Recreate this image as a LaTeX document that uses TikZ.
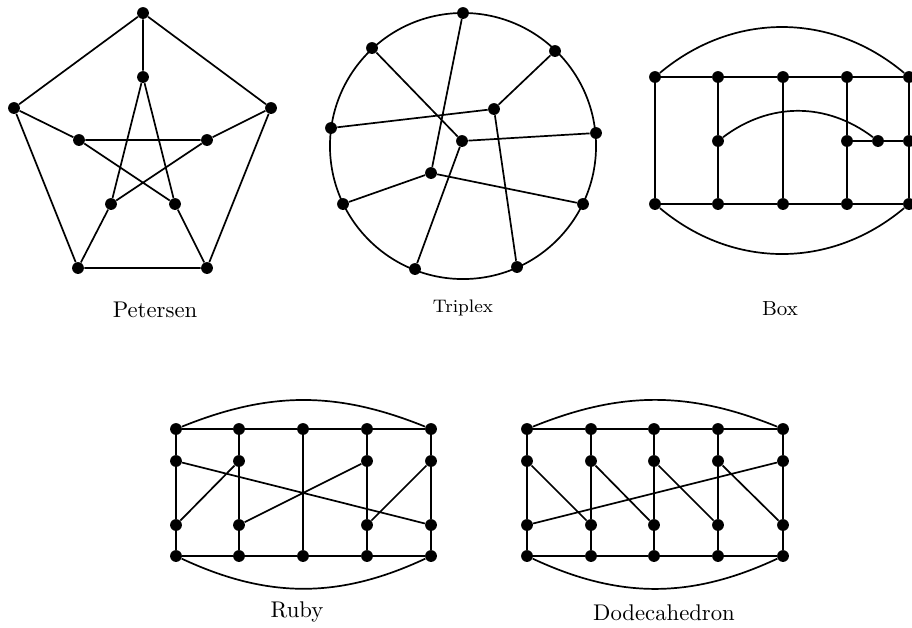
\documentclass[tikz,border=0pt]{standalone}
\begin{document}
\begin{tikzpicture}[x=0.4405pt,y=-0.4405pt,
  v/.style={circle,fill=black,inner sep=0pt,minimum size=5.2pt},
  e/.style={line width=0.75pt},
  lbl/.style={anchor=base,inner sep=0pt}]
\useasboundingbox (0,0) rectangle (912,627);
% ---------------- Petersen
\node[v] (p1) at (143,13) {};
\node[v] (p2) at (271,108) {};
\node[v] (p3) at (207,268) {};
\node[v] (p4) at (78,268) {};
\node[v] (p5) at (14,108) {};
\node[v] (q1) at (143,77) {};
\node[v] (q2) at (207,140) {};
\node[v] (q3) at (175,204) {};
\node[v] (q4) at (111,204) {};
\node[v] (q5) at (79,140) {};
\draw[e] (p1)--(p2) (p2)--(p3) (p3)--(p4) (p4)--(p5) (p5)--(p1);
\draw[e] (p1)--(q1) (p2)--(q2) (p3)--(q3) (p4)--(q4) (p5)--(q5);
\draw[e] (q1)--(q3) (q3)--(q5) (q5)--(q2) (q2)--(q4) (q4)--(q1);
\node[lbl] (lp) at (155,317) {Petersen};
% ---------------- Triplex
\draw[e] (463,146) circle [radius=58.6pt];
\node[v] (t1) at (463,13) {};
\node[v] (t2) at (555,51) {};
\node[v] (t3) at (596,133) {};
\node[v] (t4) at (583,204) {};
\node[v] (t5) at (517,267) {};
\node[v] (t6) at (415,269) {};
\node[v] (t7) at (343,204) {};
\node[v] (t8) at (331,128) {};
\node[v] (t9) at (372,48) {};
\node[v] (ta) at (494,109) {};
\node[v] (tb) at (462,141) {};
\node[v] (tc) at (431,173) {};
\draw[e] (t1)--(tc) (t9)--(tb) (ta)--(t2) (ta)--(t8) (ta)--(t5)
  (tb)--(t3) (tb)--(t6) (tc)--(t7) (tc)--(t4);
\node[lbl,font=\footnotesize] (lt) at (463,312) {Triplex};
% ---------------- Box
\node[v] (bt1) at (655,77) {};
\node[v] (bt2) at (718,77) {};
\node[v] (bt3) at (783,77) {};
\node[v] (bt4) at (847,77) {};
\node[v] (bt5) at (909,77) {};
\node[v] (bb1) at (655,204) {};
\node[v] (bb2) at (718,204) {};
\node[v] (bb3) at (783,204) {};
\node[v] (bb4) at (847,204) {};
\node[v] (bb5) at (909,204) {};
\node[v] (bm2) at (718,141) {};
\node[v] (bm4) at (847,141) {};
\node[v] (bmx) at (878,141) {};
\node[v] (bm5) at (909,141) {};
\draw[e] (bt1)--(bt2) (bt2)--(bt3) (bt3)--(bt4) (bt4)--(bt5);
\draw[e] (bb1)--(bb2) (bb2)--(bb3) (bb3)--(bb4) (bb4)--(bb5);
\draw[e] (bt1)--(bb1) (bt2)--(bm2) (bm2)--(bb2) (bt3)--(bb3)
  (bt4)--(bm4) (bm4)--(bb4) (bt5)--(bm5) (bm5)--(bb5)
  (bm4)--(bmx) (bmx)--(bm5);
\draw[e] (bm2) to[bend left=37] (bmx);
\draw[e] (bt1) to[bend left=40] (bt5);
\draw[e] (bb1) to[bend right=40] (bb5);
\node[lbl,font=\small] (lb) at (780,315) {Box};
% ---------------- Ruby
\foreach \i/\x in {1/176,2/239,3/303,4/367,5/431}{
  \node[v] (ra\i) at (\x,429) {};
  \node[v] (rd\i) at (\x,556) {};
}
\foreach \i/\x in {1/176,2/239,4/367,5/431}{
  \node[v] (rb\i) at (\x,461) {};
  \node[v] (rc\i) at (\x,525) {};
}
\draw[e] (ra1)--(ra2) (ra2)--(ra3) (ra3)--(ra4) (ra4)--(ra5);
\draw[e] (rd1)--(rd2) (rd2)--(rd3) (rd3)--(rd4) (rd4)--(rd5);
\foreach \i in {1,2,4,5}{
  \draw[e] (ra\i)--(rb\i) (rb\i)--(rc\i) (rc\i)--(rd\i);
}
\draw[e] (ra3)--(rd3);
\draw[e] (rb1)--(rc5) (rb2)--(rc1) (rb4)--(rc2) (rb5)--(rc4);
\draw[e] (ra1) to[bend left=22] (ra5);
\draw[e] (rd1) to[bend right=25] (rd5);
\node[lbl] (lr) at (297,617) {Ruby};
% ---------------- Dodecahedron
\foreach \i/\x in {1/527,2/591,3/654,4/718,5/783}{
  \node[v] (da\i) at (\x,429) {};
  \node[v] (db\i) at (\x,461) {};
  \node[v] (dc\i) at (\x,525) {};
  \node[v] (dd\i) at (\x,556) {};
  \draw[e] (da\i)--(db\i) (db\i)--(dc\i) (dc\i)--(dd\i);
}
\draw[e] (da1)--(da2) (da2)--(da3) (da3)--(da4) (da4)--(da5);
\draw[e] (dd1)--(dd2) (dd2)--(dd3) (dd3)--(dd4) (dd4)--(dd5);
\draw[e] (db1)--(dc2) (db2)--(dc3) (db3)--(dc4) (db4)--(dc5) (dc1)--(db5);
\draw[e] (da1) to[bend left=22] (da5);
\draw[e] (dd1) to[bend right=25] (dd5);
\node[lbl] (ld) at (664,620) {Dodecahedron};
\end{tikzpicture}
\end{document}
